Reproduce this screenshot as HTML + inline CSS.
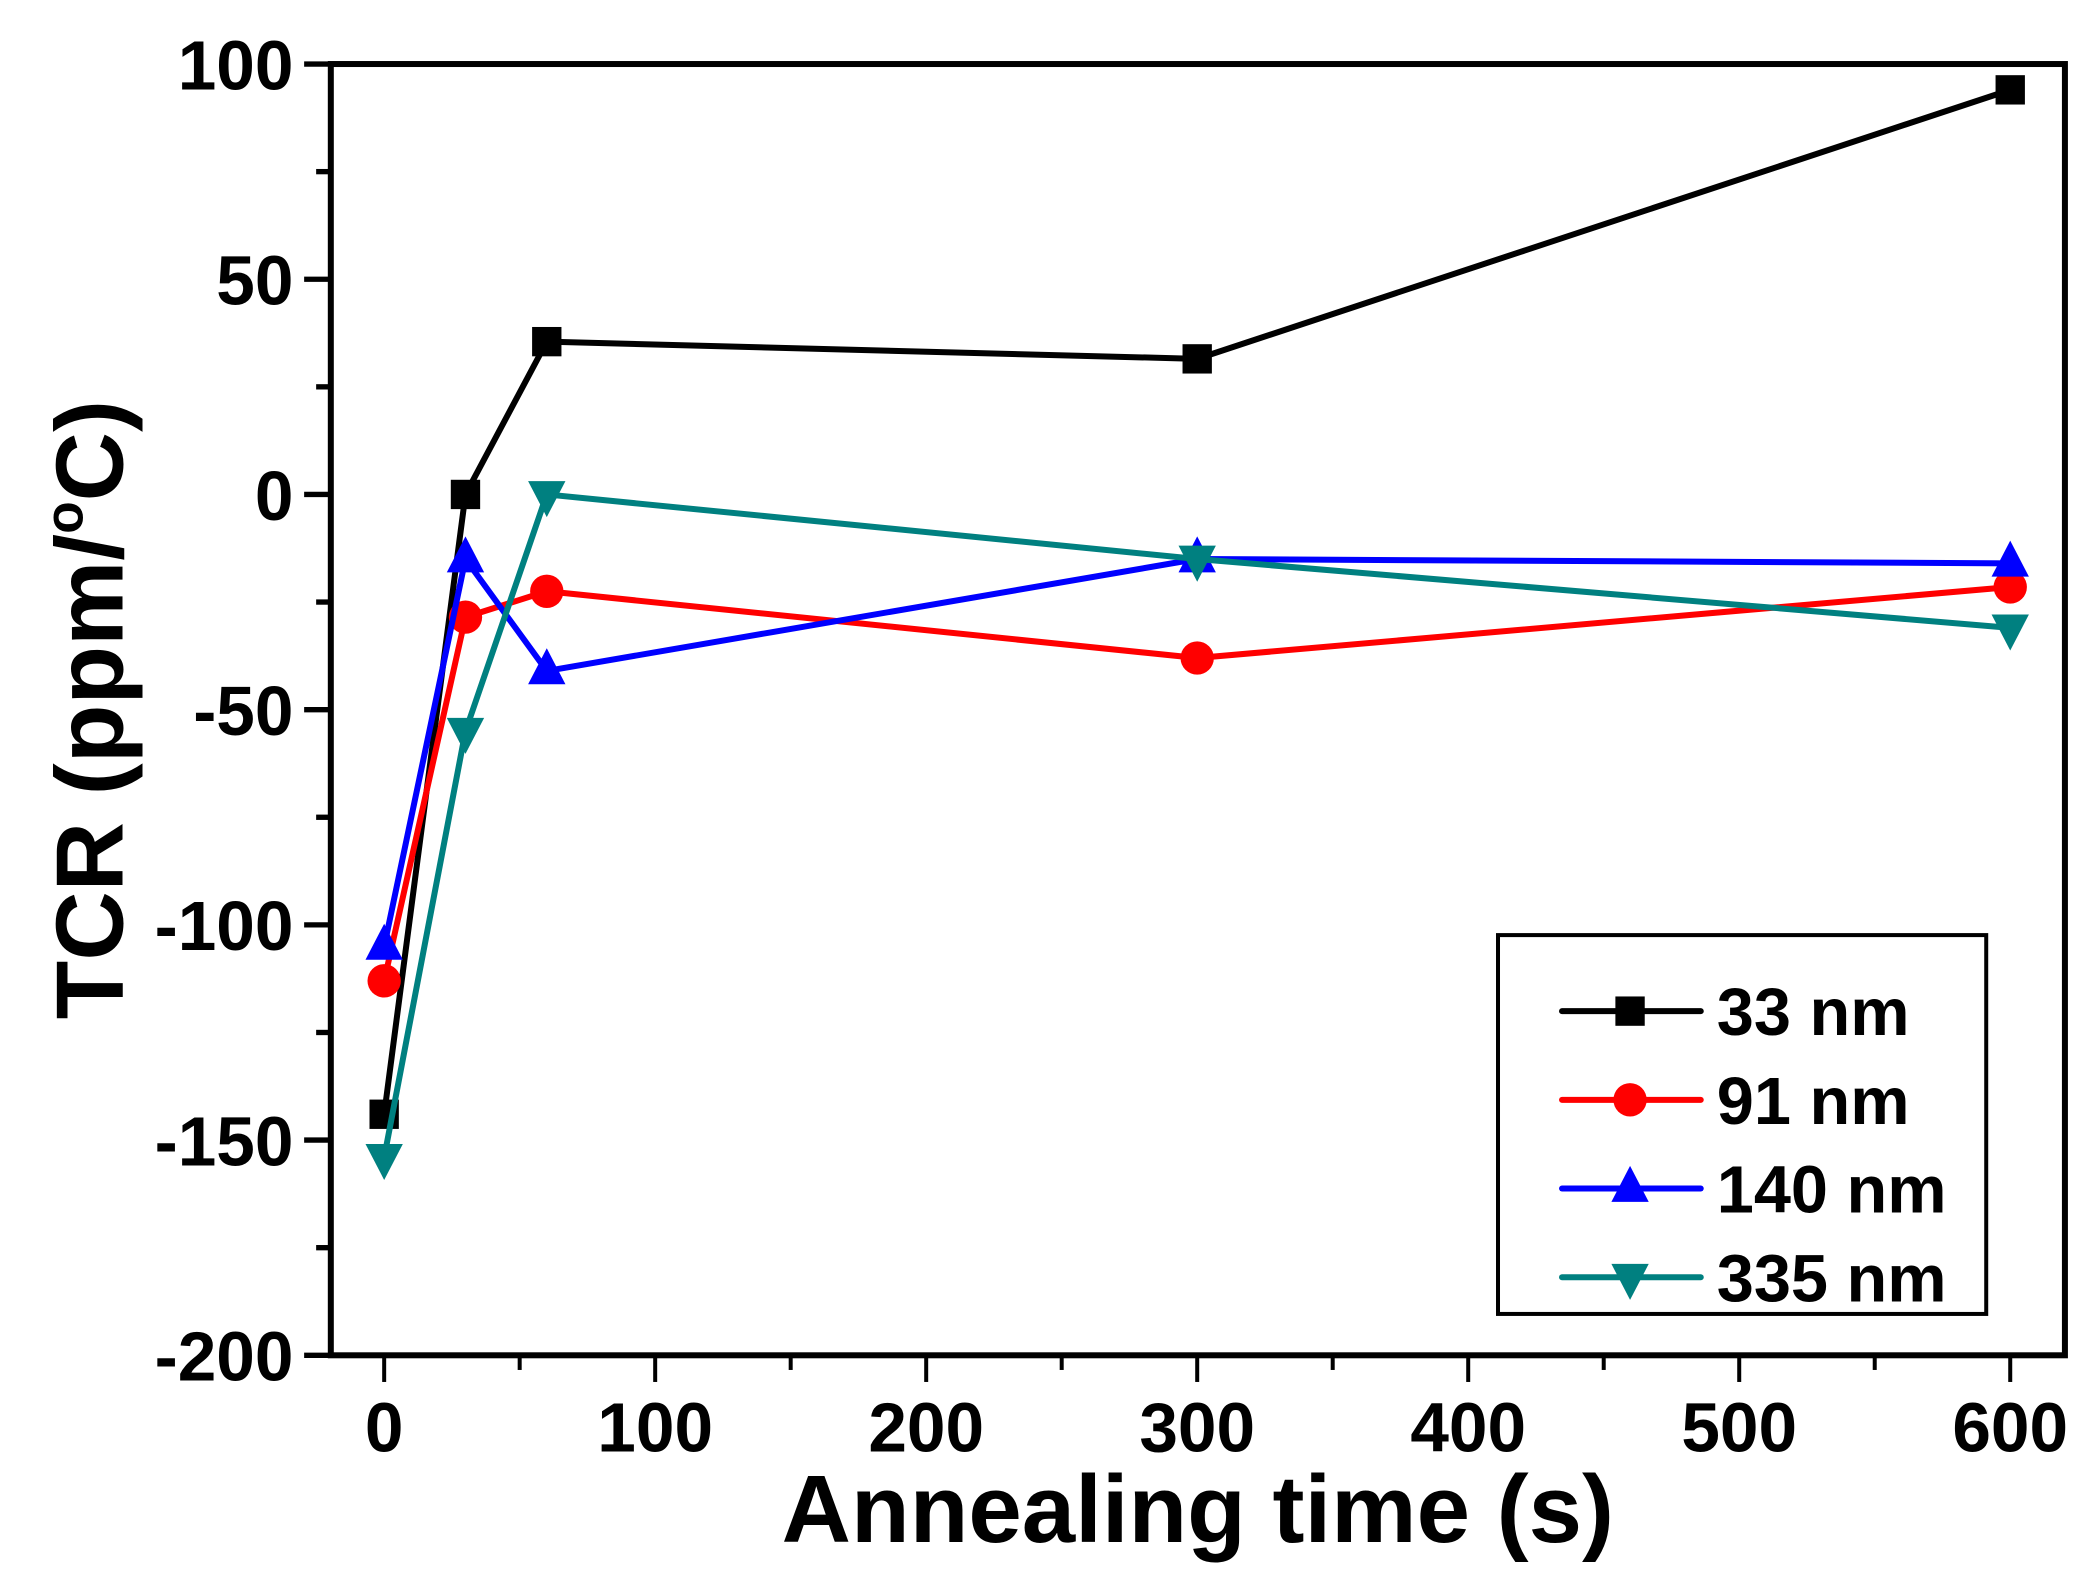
<!DOCTYPE html>
<html><head><meta charset="utf-8"><style>
html,body{margin:0;padding:0;background:#fff;}
svg{display:block;}
text{font-family:"Liberation Sans",Arial,sans-serif;font-weight:bold;fill:#000;}
</style></head><body>
<svg id="chart" width="2092" height="1593" viewBox="0 0 1568.3 1194.2" preserveAspectRatio="none" xmlns="http://www.w3.org/2000/svg">
<g id="axes"></g>
<g id="series"></g>
<g id="legend"></g>
<text x="898" y="1156" font-size="72" text-anchor="middle">Annealing time (s)</text>
<text transform="translate(92,532) rotate(-90)" font-size="72" text-anchor="middle">TCR (ppm/<tspan font-size="40" dy="-30">o</tspan><tspan dy="30">C)</tspan></text>
</svg>
<script>
const categories = [0, 30, 60, 300, 600];
const seriesNames = ["33 nm", "91 nm", "140 nm", "335 nm"];
const s33 = [-144, 0, 35.5, 31.5, 94];
const s91 = [-113, -28.5, -22.5, -38, -21.5];
const s140 = [-105, -15, -41, -15, -16];
const s335 = [-154, -55, 0, -15, -31];
const xTicks = [0, 100, 200, 300, 400, 500, 600];
const yTicks = [100, 50, 0, -50, -100, -150, -200];

const NS = "http://www.w3.org/2000/svg";
const L = 248, R = 1548, T = 48, B = 1016;
const X0 = 288, X600 = 1507;
function xs(v){ return X0 + (X600 - X0) * v / 600; }
function ys(v){ return T + (100 - v) * (B - T) / 300; }
function mk(tag, attrs, parent){
  const e = document.createElementNS(NS, tag);
  for (const k in attrs) e.setAttribute(k, attrs[k]);
  parent.appendChild(e);
  return e;
}
const axes = document.getElementById('axes');
let el = mk('rect', {x:L, y:T, width:R-L, height:B-T, fill:'none', stroke:'#000', 'stroke-width':4.5}, axes);


yTicks.forEach((v, i) => {
  const t = mk('line', {x1:L-20, x2:L, y1:ys(v), y2:ys(v), stroke:'#000', 'stroke-width':4}, axes);
  
  
  const lb = mk('text', {x:L-28, y:ys(v)+19, 'font-size':52, 'text-anchor':'end'}, axes);
  lb.textContent = v;
  
  
  if (i < yTicks.length - 1) {
    const m = (v + yTicks[i+1]) / 2;
    const mt = mk('line', {x1:L-11, x2:L, y1:ys(m), y2:ys(m), stroke:'#000', 'stroke-width':4}, axes);
    
    
  }
});
xTicks.forEach((v, i) => {
  const t = mk('line', {x1:xs(v), x2:xs(v), y1:B, y2:B+20, stroke:'#000', 'stroke-width':3}, axes);
  
  
  const lb = mk('text', {x:xs(v), y:B+72, 'font-size':52, 'text-anchor':'middle'}, axes);
  lb.textContent = v;
  
  
  if (i < xTicks.length - 1) {
    const m = (v + xTicks[i+1]) / 2;
    const mt = mk('line', {x1:xs(m), x2:xs(m), y1:B, y2:B+11, stroke:'#000', 'stroke-width':3}, axes);
    
    
  }
});

const colors = ['#000000', '#ff0000', '#0000ff', '#008080'];
const shapes = ['square', 'circle', 'up', 'down'];
const allSeries = [s33, s91, s140, s335];
function marker(shape, x, y, c, parent){
  let m;
  if (shape === 'square') m = mk('rect', {x:x-11, y:y-11, width:22, height:22, fill:c}, parent);
  else if (shape === 'circle') m = mk('circle', {cx:x, cy:y, r:12.5, fill:c}, parent);
  else if (shape === 'up') m = mk('polygon', {points:`${x},${y-17} ${x-14},${y+10} ${x+14},${y+10}`, fill:c}, parent);
  else m = mk('polygon', {points:`${x},${y+17} ${x-14},${y-10} ${x+14},${y-10}`, fill:c}, parent);
  return m;
}
const sg = document.getElementById('series');
allSeries.forEach((vals, si) => {
  const g = mk('g', {}, sg);
  
  
  const pts = vals.map((v, i) => xs(categories[i]) + ',' + ys(v)).join(' ');
  const pl = mk('polyline', {points:pts, fill:'none', stroke:colors[si], 'stroke-width':4.5, 'stroke-linejoin':'round'}, g);
  
  
  vals.forEach((v, i) => {
    const m = marker(shapes[si], xs(categories[i]), ys(v), colors[si], g);
    
    
  });
});

const lg = document.getElementById('legend');
const box = mk('rect', {x:1123, y:701, width:366, height:284, fill:'#fff', stroke:'#000', 'stroke-width':3}, lg);


seriesNames.forEach((n, i) => {
  const y = 758 + i * 66.5;
  const g = mk('g', {}, lg);
  
  
  mk('line', {x1:1171, x2:1275, y1:y, y2:y, stroke:colors[i], 'stroke-width':4.5, 'stroke-linecap':'round'}, g);
  marker(shapes[i], 1222, y, colors[i], g);
  const t = mk('text', {x:1287, y:y+18, 'font-size':50}, g);
  t.textContent = n;
});
</script>
</body></html>
